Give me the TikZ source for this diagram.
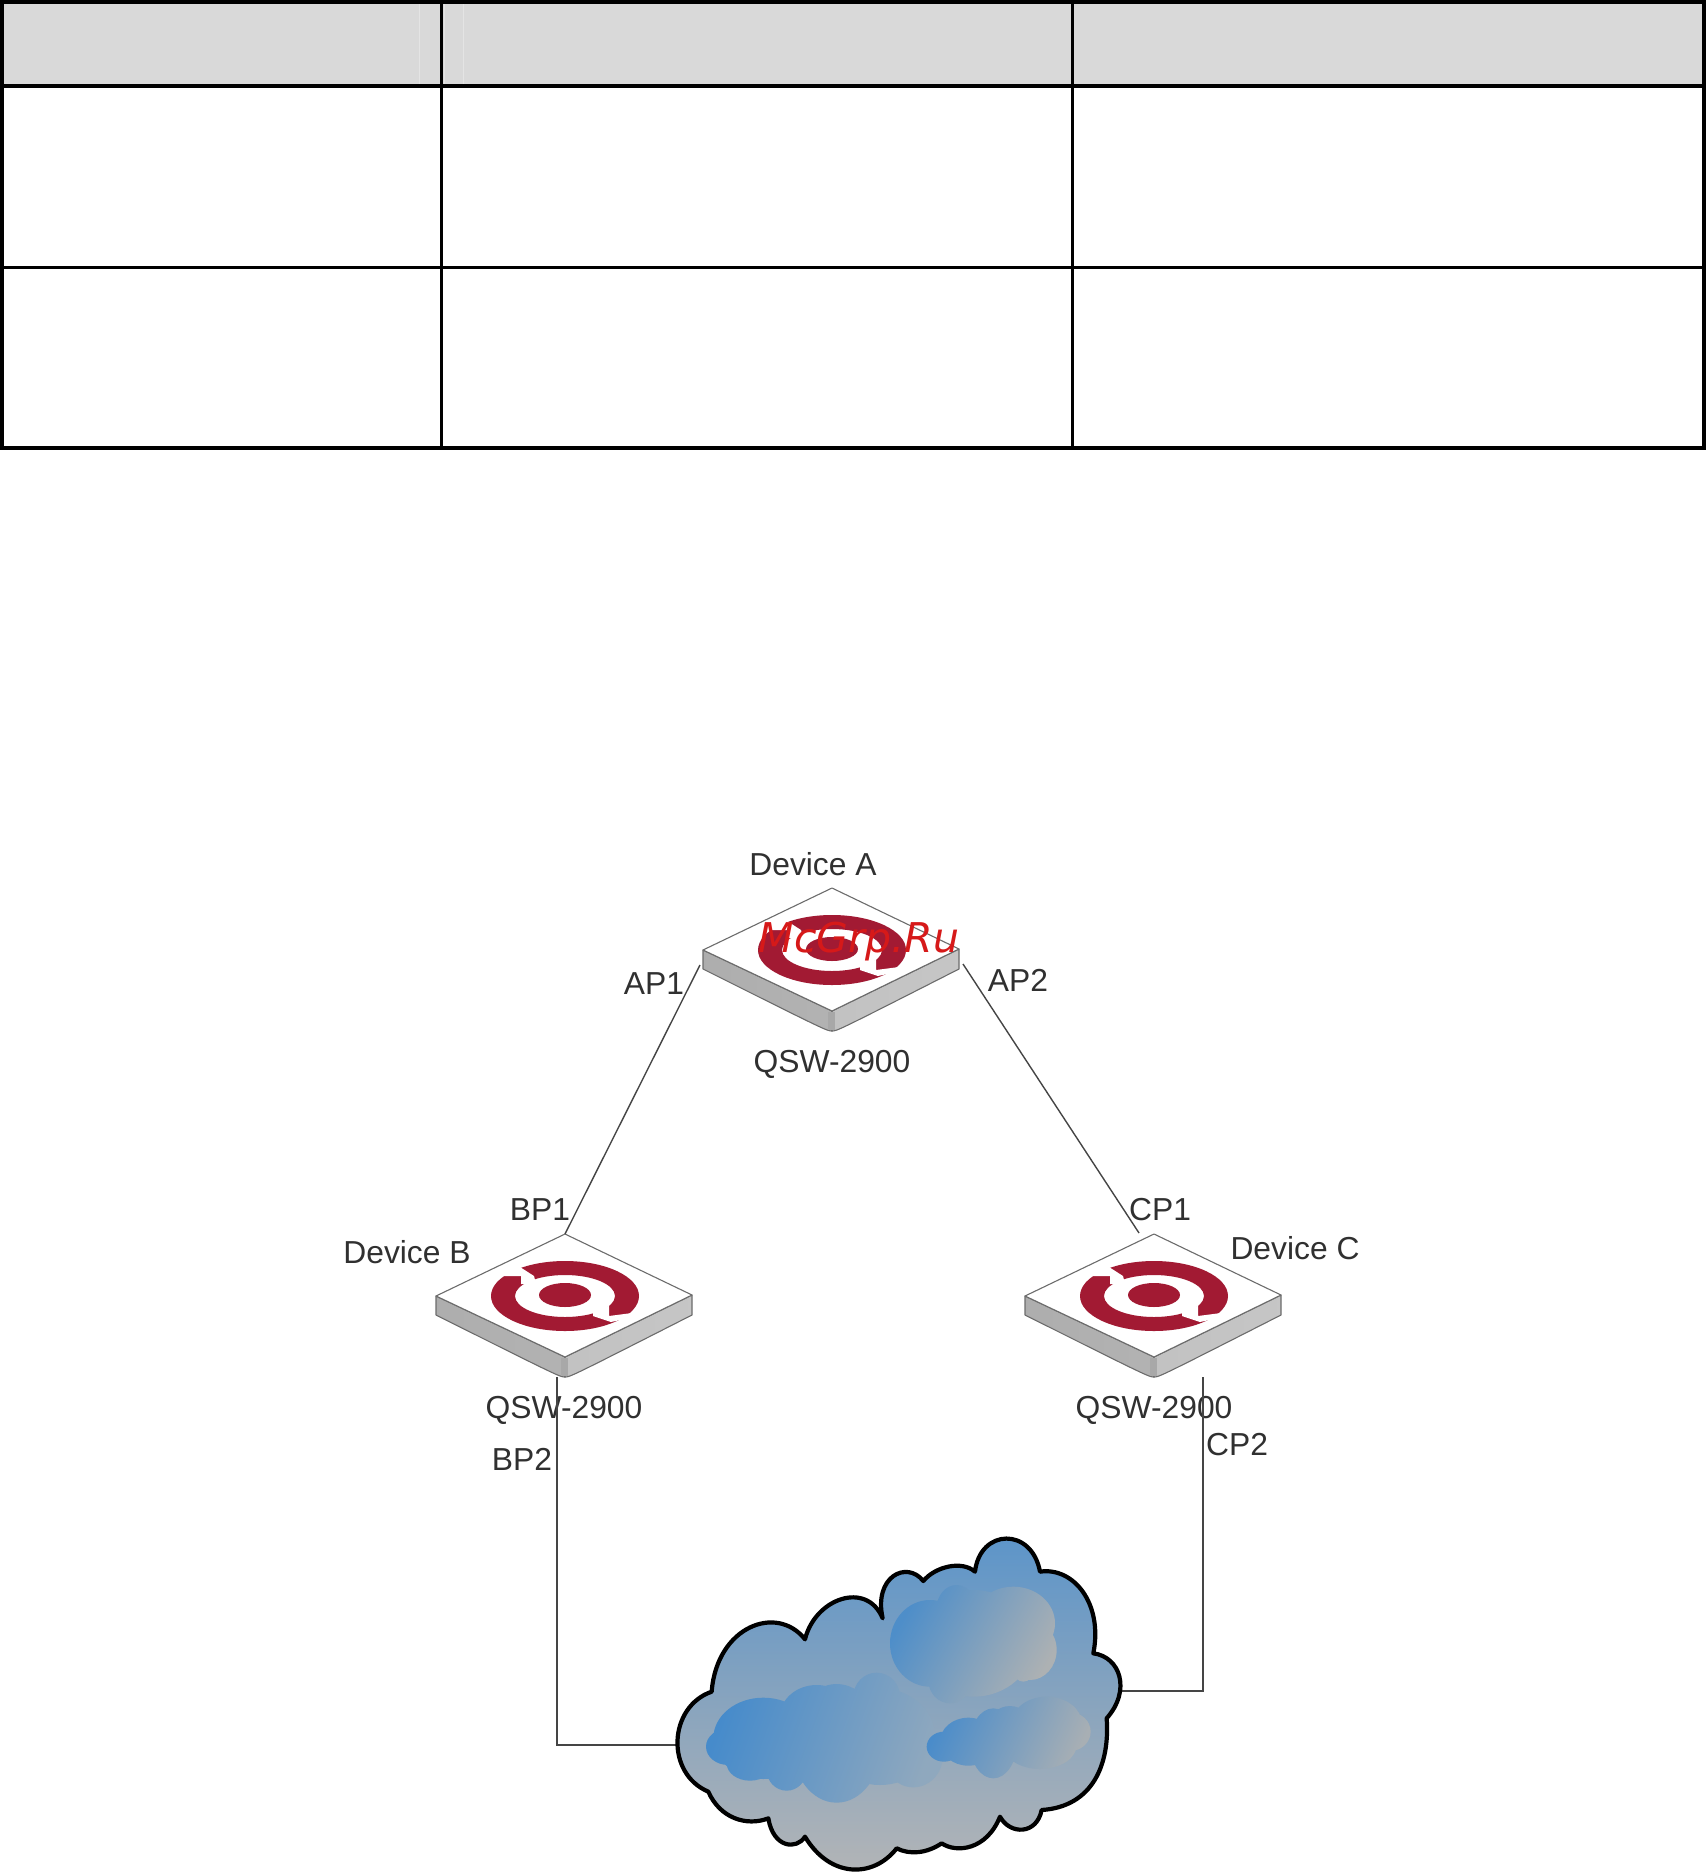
\documentclass[tikz,border=0pt]{standalone}
\usepackage{fontspec}
\setmainfont{Liberation Sans}
\newfontfamily\wmfont{DejaVu Sans}
\definecolor{logored}{HTML}{A21A33}
\definecolor{labelgray}{HTML}{303030}
\definecolor{linegray}{HTML}{454545}
\definecolor{headgray}{HTML}{D9D9D9}
\definecolor{cloudtop}{HTML}{5A94CA}
\definecolor{cloudmid}{HTML}{88A4BE}
\definecolor{cloudbot}{HTML}{B4B5B6}
\definecolor{cup1}{HTML}{4E8EC9}
\definecolor{cupm}{HTML}{74A0C8}
\definecolor{cup2}{HTML}{ADB1B3}
\definecolor{cbl1}{HTML}{468BCB}
\definecolor{cbl2}{HTML}{8FA8BE}
\definecolor{csm1}{HTML}{4A8CCA}
\definecolor{csm2}{HTML}{A8AFB4}
\tikzset{
  lbl/.style={anchor=base,inner sep=0pt,text=labelgray,font=\fontsize{31.8}{36}\selectfont},
  wire/.style={draw=linegray,line width=1.4pt},
  tabline/.style={draw=black,line width=4pt},
  tabthin/.style={draw=black,line width=3.6pt},
  swedge/.style={draw=gray!85!black,line width=1.1pt,line join=round}
}
% #1 name, #2 apex x, #3 apex y
\newcommand{\switchicon}[3]{%
  \begin{scope}[shift={(#2,#3)}]
    \coordinate (#1apex) at (0,0);
    \shade[left color=gray!64,right color=gray!60,swedge] (-129,62) -- (0,123) -- (0,143) .. controls (-5,143) .. (-129,81) -- cycle;
    \shade[left color=gray!48,right color=gray!45,swedge] (127,61) -- (0,123) -- (0,143) .. controls (5,143) .. (127,81) -- cycle;
    \fill[gray!68] (-4,124) rectangle (3,142);
    \fill[white,swedge] (0,0) -- (127,61) -- (0,123) -- (-129,62) -- cycle;
    \fill[logored,even odd rule] (0,62) circle[x radius=74,y radius=35] (0,62) circle[x radius=50,y radius=21];
    \fill[logored] (0,61) circle[x radius=26,y radius=12];
    \fill[white] (-62,42) -- (-44,42) -- (-44,50) -- (-29,50) -- (-31,42) -- (-45,33) -- (-62,31) -- cycle;
    \fill[white] (28,76) -- (44,72) -- (44,82) -- (67,79) -- (69,83) -- (46,88) -- (28,82) -- cycle;
  \end{scope}}
\newcommand{\cloudoutline}{(495,388)
    .. controls (525,265) and (680,210) .. (728,325)
    .. controls (700,200) and (800,150) .. (850,213)
    .. controls (885,170) and (965,150) .. (1005,185)
    .. controls (1020,55) and (1175,50) .. (1200,185)
    .. controls (1300,170) and (1390,280) .. (1360,430)
    .. controls (1440,440) and (1475,540) .. (1400,625)
    .. controls (1410,760) and (1360,890) .. (1205,900)
    .. controls (1190,975) and (1110,975) .. (1080,920)
    .. controls (1040,1020) and (950,1030) .. (905,1000)
    .. controls (860,1030) and (810,1035) .. (770,1015)
    .. controls (700,1105) and (570,1105) .. (495,980)
    .. controls (470,1020) and (400,1015) .. (385,925)
    .. controls (320,950) and (240,925) .. (205,845)
    .. controls (75,790) and (85,590) .. (215,545)
    .. controls (230,350) and (410,280) .. (495,388) -- cycle}
\newcommand{\blob}[4]{(#1,#2) ellipse[x radius=#3,y radius=#4]}
\begin{document}
\begin{tikzpicture}[x=1pt,y=-1pt]
\useasboundingbox (0,0) rectangle (1706,1874);
% table
\fill[headgray] (2,2) rectangle (1704,86);
\draw[headgray!70!white,line width=.8pt] (419.5,4) -- (419.5,84) (444.5,4) -- (444.5,84) (463,4) -- (463,84);
\draw[tabline] (2,1.5) -- (1704,1.5) (2,86) -- (1704,86) (2,448) -- (1704,448);
\draw[tabline] (2,0) -- (2,450) (1704,0) -- (1704,450) ;
\draw[tabthin] (2,267.5) -- (1704,267.5) (441.5,0) -- (441.5,450) (1072.5,0) -- (1072.5,450);
% switches
\switchicon{a}{832}{888}
\switchicon{b}{565}{1234}
\switchicon{c}{1154}{1234}
% watermark
\node[anchor=base,inner sep=0pt,text=red!82!black!90!white,font=\wmfont\itshape\fontsize{41}{44}\selectfont] (wm) at (859,952) {McGrp.Ru};
% labels
\node[lbl] (lda) at (813,875) {Device A};
\node[lbl] (lqa) at (832,1072) {QSW-2900};
\node[lbl] (lap1) at (654,994) {AP1};
\node[lbl] (lap2) at (1018,991) {AP2};
\node[lbl] (lbp1) at (540,1220) {BP1};
\node[lbl] (ldb) at (407,1263) {Device B};
\node[lbl] (lqb) at (564,1418) {QSW-2900};
\node[lbl] (lbp2) at (522,1470) {BP2};
\node[lbl] (lcp1) at (1160,1220) {CP1};
\node[lbl] (ldc) at (1295,1259) {Device C};
\node[lbl] (lqc) at (1154,1418) {QSW-2900};
\node[lbl] (lcp2) at (1237,1455) {CP2};
% connector ends
\coordinate (aleft) at (700,965);
\coordinate (aright) at (963,964);
\coordinate (bport) at (565,1234);
\coordinate (cport) at (1139,1233);
\coordinate (bdown) at (557,1377);
\coordinate (cdown) at (1203,1377);
\coordinate (cloudl) at (678,1745);
\coordinate (cloudr) at (1122,1691);
\draw[wire] (aleft) -- (bport);
\draw[wire] (aright) -- (cport);
\draw[wire] (bdown) |- (cloudl);
\draw[wire] (cdown) |- (cloudr);
% cloud
\begin{scope}[shift={(640,1510)},x=.33333pt,y=-.33333pt]
  \shade[top color=cloudtop,bottom color=cloudbot,middle color=cloudmid] \cloudoutline;
  \shade[left color=cup1,middle color=cupm,right color=cup2,shading angle=60]
    \blob{870}{400}{120}{130} \blob{950}{295}{60}{70} \blob{1000}{400}{180}{160}
    \blob{1120}{340}{125}{110} \blob{1170}{420}{80}{90} \blob{1030}{490}{30}{35}
    \blob{1090}{495}{30}{30} \blob{1150}{480}{30}{35} \blob{930}{510}{65}{70};
  \shade[left color=cbl1,right color=cbl2,shading angle=70]
    \blob{265}{710}{67}{55} \blob{370}{685}{150}{122} \blob{590}{700}{135}{178}
    \blob{440}{780}{60}{62} \blob{710}{560}{70}{72} \blob{720}{680}{165}{145}
    \blob{820}{740}{88}{92} \blob{330}{760}{70}{52} \blob{530}{620}{110}{95};
  \shade[left color=csm1,right color=csm2,shading angle=65]
    \blob{912}{710}{52}{45} \blob{985}{695}{85}{72} \blob{1060}{700}{70}{105}
    \blob{1110}{660}{70}{72} \blob{1220}{640}{105}{80} \blob{1290}{665}{62}{58}
    \blob{1200}{705}{110}{72};
  \draw[black,line width=4.2pt,line join=round] \cloudoutline;
\end{scope}
\end{tikzpicture}
\end{document}
